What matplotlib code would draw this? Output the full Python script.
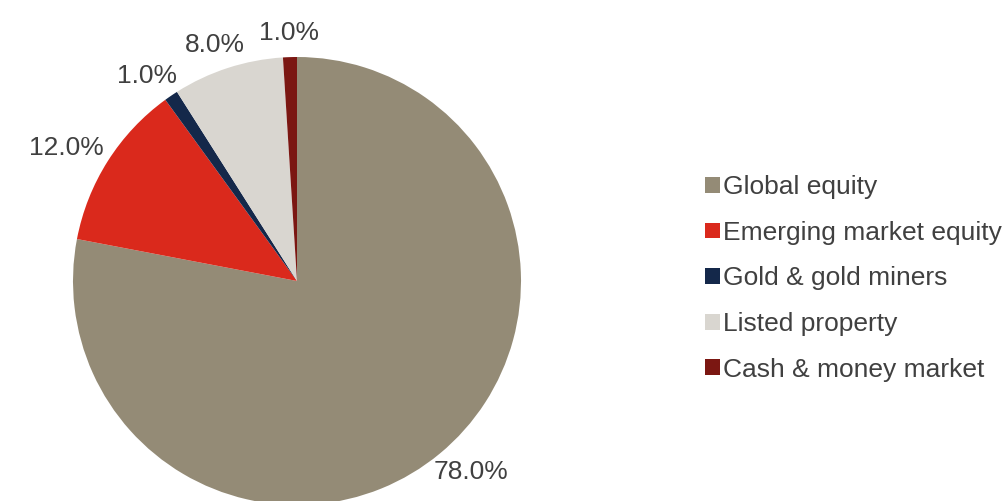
import numpy as np
import matplotlib.pyplot as plt

plt.rcParams['font.family'] = ['Liberation Sans', 'DejaVu Sans']

kategorie = ['Global equity', 'Emerging market equity', 'Gold & gold miners',
             'Listed property', 'Cash & money market']
udzialy = [78.0, 12.0, 1.0, 8.0, 1.0]
kolory = ['#948b76', '#da291c', '#14284a', '#d9d6d0', '#7b1712']
kolor_tekstu = '#404040'

fig = plt.figure(figsize=(10.08, 5.01), dpi=100)
# kolo: srodek (297, 281) px, promien 224 px
ax = fig.add_axes([73 / 1008, (501 - 281 - 224) / 501, 448 / 1008, 448 / 501])

wedges, teksty, procenty = ax.pie(
    udzialy, colors=kolory, startangle=90, counterclock=False,
    autopct='%1.1f%%', pctdistance=1.2, radius=1,
    textprops={'fontsize': 19, 'color': kolor_tekstu})
for w in wedges:
    w.set_clip_on(False)
ax.set_xlim(-1, 1)
ax.set_ylim(-1, 1)
ax.axis('off')

# etykiety tuz za krawedzia kola (jak "best fit" w Excelu)
fig.canvas.draw()
r = fig.canvas.get_renderer()
px_na_jedn = 224.0
odstep = 12 / px_na_jedn
for w, t in zip(wedges, procenty):
    kat = np.deg2rad((w.theta1 + w.theta2) / 2)
    ux, uy = np.cos(kat), np.sin(kat)
    bb = t.get_window_extent(r)
    sz = bb.width / px_na_jedn / 2
    wy = bb.height / px_na_jedn / 2
    t.set_position(((1 + odstep) * ux + ux * sz, (1 + odstep) * uy + uy * wy))
    t.set_ha('center')
    t.set_va('center')
    t.set_clip_on(False)

fig.legend(wedges, kategorie, loc='center left',
           bbox_to_anchor=(705 / 1008, (501 - 278.5) / 501),
           frameon=False, fontsize=19, labelcolor=kolor_tekstu,
           handlelength=0.55, handleheight=0.55, handletextpad=0.15,
           labelspacing=0.82, borderpad=0, borderaxespad=0)

fig.savefig('out.png', dpi=100)
